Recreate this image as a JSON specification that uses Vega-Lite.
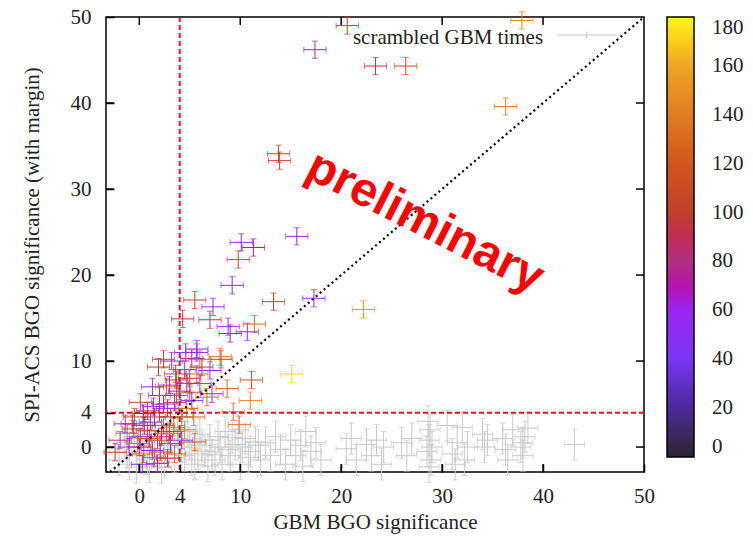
{
  "$schema": "https://vega.github.io/schema/vega-lite/v6.json",
  "width": 538,
  "height": 455,
  "autosize": "none",
  "padding": {"left": 106, "top": 17, "right": 109, "bottom": 67},
  "background": "white",
  "config": {
    "view": {"stroke": "black", "strokeWidth": 1.5},
    "axis": {"domain": false, "grid": false, "labelFont": "Liberation Serif", "titleFont": "Liberation Serif", "labelFontSize": 21, "titleFontSize": 21, "labelColor": "#222", "titleColor": "#222", "titleFontWeight": "normal", "tickColor": "black", "tickWidth": 1.5, "ticks": true, "zindex": 1, "labelFlush": false}
  },
  "datasets": {
    "gray": [
      {"x": -2.0, "y": -1.5, "ex": 1, "ey": 1.8}, {"x": -1.5, "y": 0.5, "ex": 1, "ey": 1.8}, {"x": -1.0, "y": -2.0, "ex": 1, "ey": 1.8}, {"x": -0.5, "y": 1.0, "ex": 1, "ey": 1.8},
      {"x": 0.0, "y": -1.0, "ex": 1, "ey": 1.8}, {"x": 0.5, "y": 0.0, "ex": 1, "ey": 1.8}, {"x": 1.0, "y": -2.3, "ex": 1, "ey": 1.8}, {"x": 1.5, "y": 1.5, "ex": 1, "ey": 1.8},
      {"x": 2.0, "y": -0.5, "ex": 1, "ey": 1.8}, {"x": 2.5, "y": -1.8, "ex": 1, "ey": 1.8}, {"x": 3.0, "y": 1.0, "ex": 1, "ey": 1.8}, {"x": 3.5, "y": -1.2, "ex": 1, "ey": 1.8},
      {"x": -1.2, "y": -0.6, "ex": 1, "ey": 1.8}, {"x": 0.3, "y": 2.2, "ex": 1, "ey": 1.8}, {"x": 1.2, "y": 0.8, "ex": 1, "ey": 1.8}, {"x": 2.8, "y": 0.2, "ex": 1, "ey": 1.8},
      {"x": 3.8, "y": 2.0, "ex": 1, "ey": 1.8}, {"x": 0.8, "y": -1.4, "ex": 1, "ey": 1.8}, {"x": 2.2, "y": -2.4, "ex": 1, "ey": 1.8}, {"x": -0.3, "y": -2.4, "ex": 1, "ey": 1.8},
      {"x": 4.5, "y": -1.0, "ex": 1, "ey": 1.8}, {"x": 5.0, "y": 0.5, "ex": 1, "ey": 1.8}, {"x": 5.5, "y": -2.0, "ex": 1, "ey": 1.8}, {"x": 6.0, "y": 1.5, "ex": 1, "ey": 1.8},
      {"x": 6.5, "y": -0.5, "ex": 1, "ey": 1.8}, {"x": 7.0, "y": 0.8, "ex": 1, "ey": 1.8}, {"x": 7.5, "y": -1.5, "ex": 1, "ey": 1.8}, {"x": 8.0, "y": 0.0, "ex": 1, "ey": 1.8},
      {"x": 8.5, "y": 1.8, "ex": 1, "ey": 1.8}, {"x": 9.0, "y": -1.0, "ex": 1, "ey": 1.8}, {"x": 9.5, "y": 0.3, "ex": 1, "ey": 1.8}, {"x": 10.0, "y": -2.0, "ex": 1, "ey": 1.8},
      {"x": 10.5, "y": 1.0, "ex": 1, "ey": 1.8}, {"x": 11.0, "y": -0.5, "ex": 1, "ey": 1.8}, {"x": 11.5, "y": 0.6, "ex": 1, "ey": 1.8}, {"x": 12.0, "y": -1.5, "ex": 1, "ey": 1.8},
      {"x": 4.8, "y": 1.8, "ex": 1, "ey": 1.8}, {"x": 5.8, "y": -0.8, "ex": 1, "ey": 1.8}, {"x": 6.8, "y": -2.2, "ex": 1, "ey": 1.8}, {"x": 7.8, "y": 1.2, "ex": 1, "ey": 1.8},
      {"x": 8.8, "y": -0.3, "ex": 1, "ey": 1.8}, {"x": 9.8, "y": 2.0, "ex": 1, "ey": 1.8}, {"x": 10.8, "y": -1.2, "ex": 1, "ey": 1.8}, {"x": 11.8, "y": 0.2, "ex": 1, "ey": 1.8},
      {"x": 6.2, "y": 0.2, "ex": 1, "ey": 1.8}, {"x": 7.2, "y": -0.9, "ex": 1, "ey": 1.8}, {"x": 8.2, "y": -2.0, "ex": 1, "ey": 1.8}, {"x": 9.2, "y": 1.1, "ex": 1, "ey": 1.8},
      {"x": 5.2, "y": -1.5, "ex": 1, "ey": 1.8}, {"x": 10.2, "y": 0.0, "ex": 1, "ey": 1.8}, {"x": 4.2, "y": 0.0, "ex": 1, "ey": 1.8}, {"x": 12.5, "y": 0.5, "ex": 1, "ey": 1.8},
      {"x": 13.0, "y": -1.0, "ex": 1, "ey": 1.8}, {"x": 13.5, "y": 1.2, "ex": 1, "ey": 1.8}, {"x": 14.0, "y": -0.3, "ex": 1, "ey": 1.8}, {"x": 14.5, "y": -2.0, "ex": 1, "ey": 1.8},
      {"x": 15.0, "y": 0.8, "ex": 1, "ey": 1.8}, {"x": 15.5, "y": -1.0, "ex": 1, "ey": 1.8}, {"x": 16.0, "y": 0.2, "ex": 1, "ey": 1.8}, {"x": 16.5, "y": 1.8, "ex": 1, "ey": 1.8},
      {"x": 17.0, "y": -0.5, "ex": 1, "ey": 1.8}, {"x": 17.5, "y": 0.5, "ex": 1, "ey": 1.8}, {"x": 18.0, "y": -1.5, "ex": 1, "ey": 1.8}, {"x": 16.2, "y": -2.2, "ex": 1, "ey": 1.8},
      {"x": 20.5, "y": -0.2, "ex": 1, "ey": 1.8}, {"x": 21.0, "y": 1.0, "ex": 1, "ey": 1.8}, {"x": 21.5, "y": -1.5, "ex": 1, "ey": 1.8}, {"x": 22.5, "y": 0.3, "ex": 1, "ey": 1.8},
      {"x": 23.0, "y": -1.0, "ex": 1, "ey": 1.8}, {"x": 23.5, "y": 0.8, "ex": 1, "ey": 1.8}, {"x": 24.0, "y": -2.0, "ex": 1, "ey": 1.8}, {"x": 24.2, "y": 0.0, "ex": 1, "ey": 1.8},
      {"x": 26.0, "y": 0.5, "ex": 1, "ey": 1.8}, {"x": 26.5, "y": -1.0, "ex": 1, "ey": 1.8}, {"x": 27.0, "y": 1.0, "ex": 1, "ey": 1.8}, {"x": 28.5, "y": -0.5, "ex": 1, "ey": 1.8},
      {"x": 28.7, "y": 0.8, "ex": 1, "ey": 1.8}, {"x": 28.8, "y": 2.0, "ex": 1, "ey": 1.8}, {"x": 28.9, "y": -1.5, "ex": 1, "ey": 1.8}, {"x": 28.6, "y": 3.0, "ex": 1, "ey": 1.8},
      {"x": 29.0, "y": 0.0, "ex": 1, "ey": 1.8}, {"x": 28.7, "y": -2.3, "ex": 1, "ey": 1.8}, {"x": 30.5, "y": 2.5, "ex": 1, "ey": 1.8}, {"x": 31.0, "y": -0.8, "ex": 1, "ey": 1.8},
      {"x": 31.3, "y": -2.0, "ex": 1, "ey": 1.8}, {"x": 31.5, "y": 0.5, "ex": 1, "ey": 1.8}, {"x": 32.0, "y": 2.3, "ex": 1, "ey": 1.8}, {"x": 32.2, "y": -1.5, "ex": 1, "ey": 1.8},
      {"x": 32.5, "y": 0.0, "ex": 1, "ey": 1.8}, {"x": 34.0, "y": 1.5, "ex": 1, "ey": 1.8}, {"x": 34.2, "y": 0.0, "ex": 1, "ey": 1.8}, {"x": 34.5, "y": 0.8, "ex": 1, "ey": 1.8},
      {"x": 36.0, "y": 1.0, "ex": 1, "ey": 1.8}, {"x": 36.3, "y": -0.3, "ex": 1, "ey": 1.8}, {"x": 36.5, "y": -1.5, "ex": 1, "ey": 1.8}, {"x": 37.0, "y": 2.0, "ex": 1, "ey": 1.8},
      {"x": 37.8, "y": 0.0, "ex": 1, "ey": 1.8}, {"x": 38.0, "y": -1.0, "ex": 1, "ey": 1.8}, {"x": 38.2, "y": 1.2, "ex": 1, "ey": 1.8}, {"x": 38.5, "y": 2.2, "ex": 1, "ey": 1.8},
      {"x": 38.0, "y": 0.5, "ex": 1, "ey": 1.8}, {"x": 43.1, "y": 0.3, "ex": 1, "ey": 1.8}
    ],
    "col": [
      {"x": 20.6, "y": 49.0, "ex": 1.1, "ey": 1.0, "c": 100}, {"x": 17.4, "y": 46.2, "ex": 1.1, "ey": 1.0, "c": 78},
      {"x": 23.4, "y": 44.3, "ex": 1.1, "ey": 1.0, "c": 95}, {"x": 26.4, "y": 44.3, "ex": 1.1, "ey": 1.0, "c": 110},
      {"x": 37.9, "y": 49.6, "ex": 1.1, "ey": 1.0, "c": 145}, {"x": 36.3, "y": 39.6, "ex": 1.1, "ey": 1.0, "c": 140},
      {"x": 13.8, "y": 34.1, "ex": 1.1, "ey": 1.0, "c": 100}, {"x": 13.9, "y": 33.3, "ex": 1.1, "ey": 1.0, "c": 105},
      {"x": 15.6, "y": 24.5, "ex": 1.1, "ey": 1.0, "c": 55}, {"x": 11.3, "y": 23.2, "ex": 1.1, "ey": 1.0, "c": 72},
      {"x": 10.1, "y": 23.8, "ex": 1.1, "ey": 1.0, "c": 55}, {"x": 9.8, "y": 21.8, "ex": 1.1, "ey": 1.0, "c": 108},
      {"x": 9.2, "y": 18.8, "ex": 1.1, "ey": 1.0, "c": 50}, {"x": 5.5, "y": 17.1, "ex": 1.1, "ey": 1.0, "c": 100},
      {"x": 7.3, "y": 16.3, "ex": 1.1, "ey": 1.0, "c": 55}, {"x": 13.3, "y": 16.9, "ex": 1.1, "ey": 1.0, "c": 100},
      {"x": 17.3, "y": 17.3, "ex": 1.1, "ey": 1.0, "c": 60}, {"x": 22.2, "y": 16.0, "ex": 1.1, "ey": 1.0, "c": 150},
      {"x": 4.3, "y": 14.9, "ex": 1.1, "ey": 1.0, "c": 95}, {"x": 7.0, "y": 14.8, "ex": 1.1, "ey": 1.0, "c": 82},
      {"x": 8.8, "y": 14.0, "ex": 1.1, "ey": 1.0, "c": 55}, {"x": 9.0, "y": 13.2, "ex": 1.1, "ey": 1.0, "c": 70},
      {"x": 10.7, "y": 13.4, "ex": 1.1, "ey": 1.0, "c": 52}, {"x": 11.4, "y": 14.3, "ex": 1.1, "ey": 1.0, "c": 130},
      {"x": 15.1, "y": 8.5, "ex": 1.1, "ey": 1.0, "c": 172}, {"x": 11.1, "y": 7.8, "ex": 1.1, "ey": 1.0, "c": 112},
      {"x": 11.0, "y": 5.4, "ex": 1.1, "ey": 1.0, "c": 145}, {"x": 9.3, "y": 4.1, "ex": 1.1, "ey": 1.0, "c": 130},
      {"x": 9.9, "y": 2.6, "ex": 1.1, "ey": 1.0, "c": 135}, {"x": 8.1, "y": 10.2, "ex": 1.1, "ey": 1.0, "c": 105},
      {"x": 8.7, "y": 6.8, "ex": 1.1, "ey": 1.0, "c": 128}, {"x": 5.5, "y": 0.6, "ex": 1.1, "ey": 1.0, "c": 125},
      {"x": 7.2, "y": 6.2, "ex": 1.1, "ey": 1.0, "c": 55}, {"x": 5.7, "y": 11.4, "ex": 1.1, "ey": 1.0, "c": 55},
      {"x": 8.0, "y": 10.5, "ex": 1.1, "ey": 1.0, "c": 130},
      {"x": 1.9, "y": 9.3, "ex": 1.1, "ey": 1.0, "c": 100}, {"x": 2.4, "y": 10.2, "ex": 1.1, "ey": 1.0, "c": 105},
      {"x": 3.2, "y": 10.0, "ex": 1.1, "ey": 1.0, "c": 60}, {"x": 4.6, "y": 11.0, "ex": 1.1, "ey": 1.0, "c": 55},
      {"x": 5.7, "y": 11.0, "ex": 1.1, "ey": 1.0, "c": 52}, {"x": 6.0, "y": 10.2, "ex": 1.1, "ey": 1.0, "c": 130},
      {"x": 6.2, "y": 9.3, "ex": 1.1, "ey": 1.0, "c": 100}, {"x": 5.2, "y": 10.3, "ex": 1.1, "ey": 1.0, "c": 75},
      {"x": 1.3, "y": 7.0, "ex": 1.1, "ey": 1.0, "c": 55}, {"x": 0.1, "y": 5.2, "ex": 1.1, "ey": 1.0, "c": 100},
      {"x": 2.7, "y": 7.0, "ex": 1.1, "ey": 1.0, "c": 125}, {"x": 3.7, "y": 7.8, "ex": 1.1, "ey": 1.0, "c": 100},
      {"x": 3.7, "y": 6.0, "ex": 1.1, "ey": 1.0, "c": 105}, {"x": 4.7, "y": 7.4, "ex": 1.1, "ey": 1.0, "c": 55},
      {"x": 5.7, "y": 8.5, "ex": 1.1, "ey": 1.0, "c": 130}, {"x": 7.0, "y": 8.9, "ex": 1.1, "ey": 1.0, "c": 55},
      {"x": 6.0, "y": 7.4, "ex": 1.1, "ey": 1.0, "c": 60}, {"x": 5.2, "y": 5.4, "ex": 1.1, "ey": 1.0, "c": 55},
      {"x": 2.4, "y": 5.0, "ex": 1.1, "ey": 1.0, "c": 60}, {"x": 1.4, "y": 4.7, "ex": 1.1, "ey": 1.0, "c": 55},
      {"x": 0.4, "y": 3.9, "ex": 1.1, "ey": 1.0, "c": 60}, {"x": -0.7, "y": 2.7, "ex": 1.1, "ey": 1.0, "c": 80},
      {"x": -1.2, "y": 1.6, "ex": 1.1, "ey": 1.0, "c": 130}, {"x": -0.6, "y": 2.1, "ex": 1.1, "ey": 1.0, "c": 100},
      {"x": 0.1, "y": 1.2, "ex": 1.1, "ey": 1.0, "c": 55}, {"x": 0.8, "y": 1.9, "ex": 1.1, "ey": 1.0, "c": 100},
      {"x": 1.1, "y": 2.9, "ex": 1.1, "ey": 1.0, "c": 55}, {"x": -2.4, "y": -0.6, "ex": 1.1, "ey": 1.0, "c": 100},
      {"x": 0.4, "y": -0.8, "ex": 1.1, "ey": 1.0, "c": 130}, {"x": 1.8, "y": -1.9, "ex": 1.1, "ey": 1.0, "c": 55},
      {"x": 2.1, "y": -0.6, "ex": 1.1, "ey": 1.0, "c": 125}, {"x": 3.1, "y": 0.4, "ex": 1.1, "ey": 1.0, "c": 55},
      {"x": 2.7, "y": 1.6, "ex": 1.1, "ey": 1.0, "c": 130}, {"x": 2.4, "y": 2.5, "ex": 1.1, "ey": 1.0, "c": 125},
      {"x": 4.2, "y": 0.8, "ex": 1.1, "ey": 1.0, "c": 55}, {"x": 4.2, "y": 3.5, "ex": 1.1, "ey": 1.0, "c": 130},
      {"x": 5.4, "y": 3.5, "ex": 1.1, "ey": 1.0, "c": 125}, {"x": 4.7, "y": 4.5, "ex": 1.1, "ey": 1.0, "c": 130},
      {"x": 6.7, "y": 5.8, "ex": 1.1, "ey": 1.0, "c": 130}, {"x": 3.6, "y": 8.5, "ex": 1.1, "ey": 1.0, "c": 100},
      {"x": 3.1, "y": 3.5, "ex": 1.1, "ey": 1.0, "c": 100}, {"x": 3.4, "y": 2.3, "ex": 1.1, "ey": 1.0, "c": 130},
      {"x": 1.8, "y": 0.8, "ex": 1.1, "ey": 1.0, "c": 100}, {"x": 1.3, "y": -0.4, "ex": 1.1, "ey": 1.0, "c": 55},
      {"x": -1.4, "y": 2.7, "ex": 1.1, "ey": 1.0, "c": 55}, {"x": -1.9, "y": 0.8, "ex": 1.1, "ey": 1.0, "c": 80},
      {"x": -0.2, "y": 0.4, "ex": 1.1, "ey": 1.0, "c": 130}, {"x": 0.5, "y": 2.5, "ex": 1.1, "ey": 1.0, "c": 85},
      {"x": 1.5, "y": 3.5, "ex": 1.1, "ey": 1.0, "c": 90}, {"x": 2.0, "y": 4.0, "ex": 1.1, "ey": 1.0, "c": 110},
      {"x": 2.8, "y": 4.5, "ex": 1.1, "ey": 1.0, "c": 60}, {"x": 3.5, "y": 5.2, "ex": 1.1, "ey": 1.0, "c": 90},
      {"x": 4.0, "y": 6.5, "ex": 1.1, "ey": 1.0, "c": 75}, {"x": 4.5, "y": 9.0, "ex": 1.1, "ey": 1.0, "c": 60},
      {"x": 5.0, "y": 8.0, "ex": 1.1, "ey": 1.0, "c": 95}, {"x": 0.0, "y": 0.0, "ex": 1.1, "ey": 1.0, "c": 90},
      {"x": -1.0, "y": 0.0, "ex": 1.1, "ey": 1.0, "c": 60}, {"x": 1.0, "y": 1.0, "ex": 1.1, "ey": 1.0, "c": 120},
      {"x": 2.2, "y": 1.2, "ex": 1.1, "ey": 1.0, "c": 85}, {"x": 3.0, "y": 1.8, "ex": 1.1, "ey": 1.0, "c": 95},
      {"x": -0.5, "y": 3.5, "ex": 1.1, "ey": 1.0, "c": 100}, {"x": 0.8, "y": 4.2, "ex": 1.1, "ey": 1.0, "c": 80},
      {"x": 2.0, "y": 6.0, "ex": 1.1, "ey": 1.0, "c": 95}, {"x": 3.0, "y": 7.2, "ex": 1.1, "ey": 1.0, "c": 60},
      {"x": 4.5, "y": 2.0, "ex": 1.1, "ey": 1.0, "c": 140}, {"x": 5.0, "y": 6.3, "ex": 1.1, "ey": 1.0, "c": 110},
      {"x": 1.5, "y": -1.2, "ex": 1.1, "ey": 1.0, "c": 120}, {"x": 3.5, "y": -0.8, "ex": 1.1, "ey": 1.0, "c": 125},
      {"x": 0.3, "y": -2.0, "ex": 1.1, "ey": 1.0, "c": 60}, {"x": 2.8, "y": -1.3, "ex": 1.1, "ey": 1.0, "c": 90}
    ],
    "tickpos": [{"v": 0}, {"v": 10}, {"v": 20}, {"v": 30}, {"v": 40}]
  },
  "resolve": {"axis": {"x": "independent", "y": "independent"}, "legend": {"color": "independent"}},
  "layer": [
    {
      "data": {"name": "gray"},
      "mark": {"type": "errorbar", "ticks": {"size": 6}, "color": "#c8c8c8"},
      "encoding": {
        "x": {"field": "x", "type": "quantitative", "scale": {"domain": [-3.3, 50], "nice": false, "zero": false},
          "axis": {"orient": "bottom", "title": "GBM BGO significance", "values": [0, 4, 10, 20, 30, 40, 50], "ticks": true, "tickColor": "black", "tickOpacity": 1, "tickWidth": 1.5, "tickSize": 8, "offset": -8, "labelPadding": 13, "titlePadding": 5, "zindex": 1, "labelFlush": false}},
        "y": {"field": "y", "type": "quantitative", "scale": {"domain": [-2.9, 50], "nice": false, "zero": false},
          "axis": {"orient": "left", "title": "SPI-ACS BGO significance (with margin)", "values": [0, 4, 10, 20, 30, 40, 50], "ticks": true, "tickColor": "black", "tickOpacity": 1, "tickWidth": 1.5, "tickSize": 8, "offset": -8, "labelPadding": 15, "titlePadding": 28, "zindex": 1, "labelFlush": false}},
        "yError": {"field": "ey"}
      }
    },
    {
      "data": {"name": "gray"},
      "mark": {"type": "errorbar", "ticks": {"size": 6}, "color": "#c8c8c8"},
      "encoding": {
        "x": {"field": "x", "type": "quantitative", "axis": null},
        "y": {"field": "y", "type": "quantitative", "axis": null},
        "xError": {"field": "ex"}
      }
    },
    {
      "data": {"name": "col"},
      "mark": {"type": "errorbar", "ticks": {"size": 6}},
      "encoding": {
        "x": {"field": "x", "type": "quantitative", "axis": null},
        "y": {"field": "y", "type": "quantitative", "axis": null},
        "yError": {"field": "ey"},
        "color": {"field": "c", "type": "quantitative",
          "scale": {"domain": [0, 20, 40, 60, 80, 100, 120, 140, 160, 180], "range": ["#2b2530", "#4b2a9a", "#7a35f5", "#9a26f0", "#b0307e", "#c0402c", "#d2561e", "#e07c20", "#eea424", "#fff51c"]},
          "legend": null}
      }
    },
    {
      "data": {"name": "col"},
      "mark": {"type": "errorbar", "ticks": {"size": 6}},
      "encoding": {
        "x": {"field": "x", "type": "quantitative", "axis": null},
        "y": {"field": "y", "type": "quantitative", "axis": null},
        "xError": {"field": "ex"},
        "color": {"field": "c", "type": "quantitative", "legend": null}
      }
    },
    {
      "data": {"name": "col"},
      "mark": {"type": "point", "size": 0, "filled": false, "opacity": 1},
      "encoding": {
        "x": {"field": "x", "type": "quantitative", "axis": null},
        "y": {"field": "y", "type": "quantitative", "axis": null},
        "color": {"field": "c", "type": "quantitative",
          "legend": {"type": "gradient", "orient": "right", "offset": 23, "title": null, "direction": "vertical", "gradientLength": 440, "gradientThickness": 27, "gradientStrokeColor": "black", "gradientStrokeWidth": 1.5, "gradientOpacity": 1, "values": [0, 20, 40, 60, 80, 100, 120, 140, 160, 180], "labelFont": "Liberation Serif", "labelFontSize": 21, "labelColor": "#222", "labelOffset": 18, "labelBaseline": "middle", "labelOverlap": false, "padding": 0}}
      }
    },
    {
      "data": {"values": [{}]},
      "mark": {"type": "rule", "color": "#e8101a", "strokeWidth": 2, "strokeDash": [5, 3]},
      "encoding": {"x": {"datum": 4, "axis": null}}
    },
    {
      "data": {"values": [{}]},
      "mark": {"type": "rule", "color": "#e8101a", "strokeWidth": 2, "strokeDash": [5, 3]},
      "encoding": {"y": {"datum": 4, "axis": null}}
    },
    {
      "data": {"values": [{}]},
      "mark": {"type": "rule", "color": "black", "strokeWidth": 2.2, "strokeDash": [2, 3.2]},
      "encoding": {
        "x": {"datum": -2.9, "axis": null},
        "y": {"datum": -2.9, "axis": null},
        "x2": {"datum": 50},
        "y2": {"datum": 50}
      }
    },
    {
      "data": {"name": "tickpos"},
      "mark": {"type": "tick", "orient": "vertical", "size": 8, "thickness": 1.5, "color": "black", "opacity": 1},
      "encoding": {"x": {"field": "v", "type": "quantitative", "axis": null}, "y": {"datum": -2.435, "axis": null}}
    },
    {
      "data": {"name": "tickpos"},
      "mark": {"type": "tick", "orient": "vertical", "size": 8, "thickness": 1.5, "color": "black", "opacity": 1},
      "encoding": {"x": {"field": "v", "type": "quantitative", "axis": null}, "y": {"datum": 49.535, "axis": null}}
    },
    {
      "data": {"name": "tickpos"},
      "mark": {"type": "tick", "orient": "horizontal", "size": 8, "thickness": 1.5, "color": "black", "opacity": 1},
      "encoding": {"y": {"field": "v", "type": "quantitative", "axis": null}, "x": {"datum": -2.905, "axis": null}}
    },
    {
      "data": {"name": "tickpos"},
      "mark": {"type": "tick", "orient": "horizontal", "size": 8, "thickness": 1.5, "color": "black", "opacity": 1},
      "encoding": {"y": {"field": "v", "type": "quantitative", "axis": null}, "x": {"datum": 49.605, "axis": null}}
    },
    {
      "data": {"values": [{}]},
      "mark": {"type": "text", "text": "scrambled GBM times", "align": "right", "baseline": "middle", "font": "Liberation Serif", "fontSize": 21, "color": "#222"},
      "encoding": {"x": {"datum": 40.0, "axis": null}, "y": {"datum": 47.6, "axis": null}}
    },
    {
      "data": {"values": [{}]},
      "mark": {"type": "rule", "color": "#c8c8c8", "strokeWidth": 1},
      "encoding": {"x": {"datum": 41.4, "axis": null}, "x2": {"datum": 47.3}, "y": {"datum": 47.9, "axis": null}}
    },
    {
      "data": {"values": [{}]},
      "mark": {"type": "rule", "color": "#c8c8c8", "strokeWidth": 1},
      "encoding": {"x": {"datum": 44.3, "axis": null}, "y": {"datum": 47.5, "axis": null}, "y2": {"datum": 48.3}}
    },
    {
      "data": {"values": [{}]},
      "mark": {"type": "text", "text": "preliminary", "align": "center", "baseline": "middle", "font": "Liberation Sans", "fontWeight": "bold", "fontSize": 48, "color": "#ff0000", "angle": 27},
      "encoding": {"x": {"datum": 28.3, "axis": null}, "y": {"datum": 26.1, "axis": null}}
    }
  ]
}
